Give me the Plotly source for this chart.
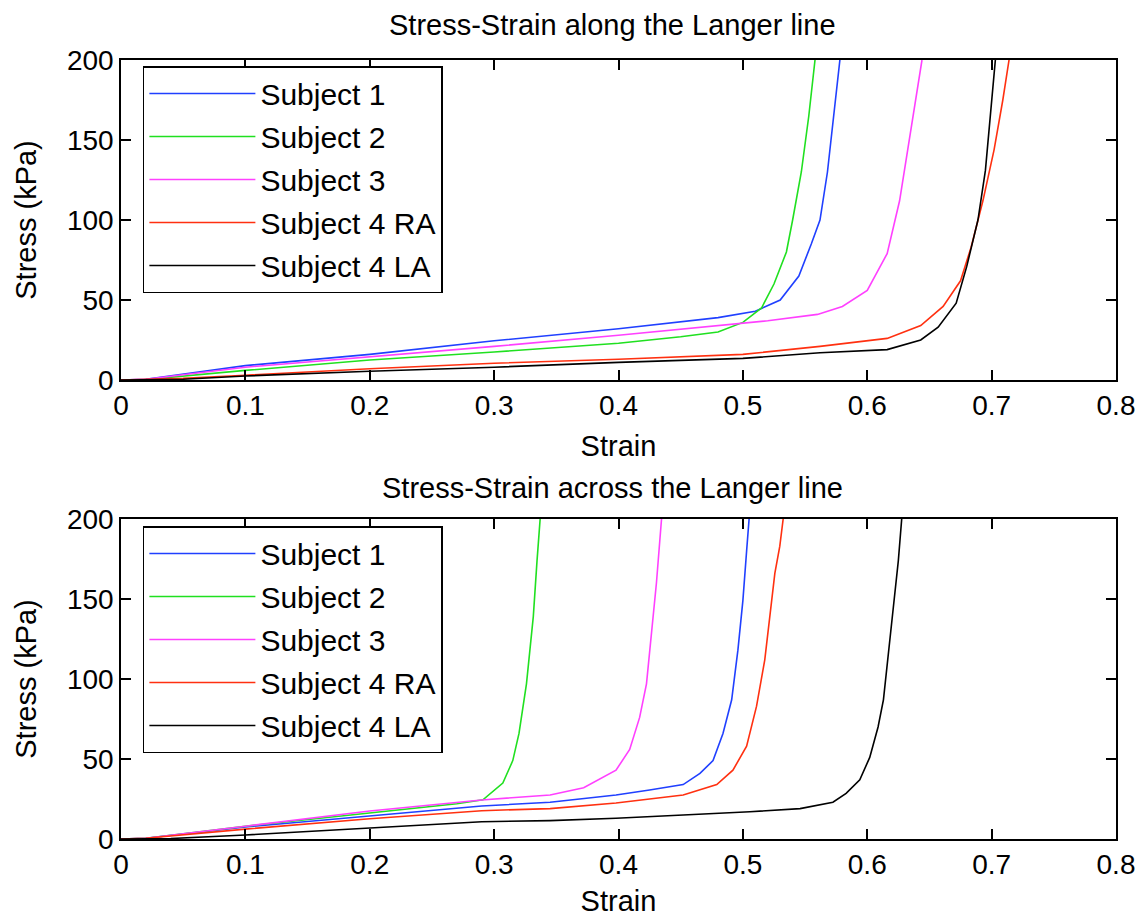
import plotly.graph_objects as go

names = ["Subject 1", "Subject 2", "Subject 3", "Subject 4 RA", "Subject 4 LA"]
colors = ["#2040ff", "#20e020", "#ff40ff", "#ff3010", "#000000"]

# ---- along the Langer line (top) ----
a1_x = [0, 0.02, 0.1, 0.2, 0.3, 0.4, 0.48, 0.51, 0.53, 0.545, 0.555, 0.562, 0.568, 0.573, 0.578]
a1_y = [0, 0.5, 9, 16, 24.5, 32, 39, 43, 50, 65, 85, 100, 130, 165, 200]
a2_x = [0, 0.02, 0.1, 0.2, 0.3, 0.4, 0.45, 0.48, 0.5, 0.515, 0.525, 0.535, 0.54, 0.547, 0.553, 0.558]
a2_y = [0, 0.3, 6, 12.5, 17.5, 23, 27, 30, 36, 45, 60, 80, 100, 130, 165, 200]
a3_x = [0, 0.02, 0.1, 0.2, 0.3, 0.4, 0.48, 0.52, 0.56, 0.58, 0.6, 0.616, 0.626, 0.634, 0.644]
a3_y = [0, 0.5, 8, 14.5, 21, 28, 34, 37, 41, 46, 56, 79, 112, 150, 200]
a4_x = [0, 0.05, 0.1, 0.2, 0.3, 0.4, 0.5, 0.562, 0.616, 0.643, 0.661, 0.675, 0.6835, 0.693, 0.702, 0.709, 0.714]
a4_y = [0, 1, 3, 7, 10.5, 13, 16, 21, 26, 34, 46, 62, 83, 112, 144, 175, 200]
a5_x = [0, 0.05, 0.1, 0.2, 0.3, 0.4, 0.5, 0.562, 0.616, 0.643, 0.657, 0.6715, 0.68, 0.689, 0.695, 0.70, 0.703]
a5_y = [0, 0.5, 2.5, 5.5, 8, 11, 13.5, 17, 19, 25, 33, 48, 71, 100, 131, 175, 200]

# ---- across the Langer line (bottom) ----
c1_x = [0, 0.02, 0.1, 0.2, 0.29, 0.345, 0.398, 0.425, 0.452, 0.4655, 0.476, 0.484, 0.491, 0.496, 0.5, 0.503, 0.505]
c1_y = [0, 0.5, 7.5, 14.5, 20.6, 23, 27.5, 30.6, 34, 41, 49, 66, 87, 118, 149, 180, 200]
c2_x = [0, 0.02, 0.1, 0.2, 0.27, 0.291, 0.307, 0.315, 0.32, 0.326, 0.3315, 0.3345, 0.337]
c2_y = [0, 0.5, 8, 16.5, 22, 24.5, 35, 49, 66, 97, 139, 174, 200]
c3_x = [0, 0.02, 0.1, 0.2, 0.29, 0.345, 0.372, 0.398, 0.409, 0.417, 0.4225, 0.4265, 0.4305, 0.4346]
c3_y = [0, 0.5, 8, 17.5, 24.4, 27.5, 32, 43, 56, 76, 97, 129, 160, 200]
c4_x = [0, 0.02, 0.1, 0.2, 0.29, 0.345, 0.398, 0.452, 0.479, 0.492, 0.503, 0.511, 0.5176, 0.5217, 0.5257, 0.5297, 0.5324]
c4_y = [0, 0.5, 6.2, 12.7, 17.7, 19, 22.5, 27.5, 34, 43, 58, 83, 112, 139, 166, 183, 200]
c5_x = [0, 0.04, 0.1, 0.2, 0.29, 0.345, 0.398, 0.452, 0.5056, 0.546, 0.5724, 0.583, 0.594, 0.602, 0.6087, 0.613, 0.617, 0.621, 0.625, 0.6277]
c5_y = [0, 0.3, 2.5, 6.9, 10.8, 11.5, 13, 15, 17, 19, 23, 28.5, 37, 51, 70, 87, 118, 145, 174, 200]

x_ticks = [0, 0.1, 0.2, 0.3, 0.4, 0.5, 0.6, 0.7, 0.8]
x_labels = ["0", "0.1", "0.2", "0.3", "0.4", "0.5", "0.6", "0.7", "0.8"]
y_ticks = [0, 50, 100, 150, 200]

top_title = "Stress-Strain along the Langer line"
bot_title = "Stress-Strain across the Langer line"

FONT = "Liberation Sans, Arial, sans-serif"

fig = go.Figure()
along = [(a1_x, a1_y), (a2_x, a2_y), (a3_x, a3_y), (a4_x, a4_y), (a5_x, a5_y)]
across = [(c1_x, c1_y), (c2_x, c2_y), (c3_x, c3_y), (c4_x, c4_y), (c5_x, c5_y)]
for i, (x, y) in enumerate(along):
    fig.add_trace(go.Scatter(x=x, y=y, mode="lines", name=names[i],
                             line=dict(color=colors[i], width=1.6),
                             xaxis="x", yaxis="y", legend="legend",
                             legendgroup="a%d" % i))
for i, (x, y) in enumerate(across):
    fig.add_trace(go.Scatter(x=x, y=y, mode="lines", name=names[i],
                             line=dict(color=colors[i], width=1.6),
                             xaxis="x2", yaxis="y2", legend="legend2",
                             legendgroup="c%d" % i))

axis_common = dict(showline=True, linecolor="black", linewidth=1.5, mirror="ticks",
                   ticks="inside", ticklen=10, tickwidth=1.5, tickcolor="black",
                   showgrid=False, zeroline=False, automargin=False,
                   tickfont=dict(family=FONT, size=28, color="black"))
xax = dict(axis_common, range=[0, 0.8], tickvals=x_ticks, ticktext=x_labels)
yax = dict(axis_common, range=[0, 200], tickvals=y_ticks)

top_lo = (839 - 380) / 779
bot_hi = (839 - 519) / 779

legend_common = dict(bgcolor="white", bordercolor="black", borderwidth=1.5,
                     font=dict(family=FONT, size=30, color="black"),
                     itemwidth=106, tracegroupgap=1, traceorder="grouped",
                     xanchor="left", yanchor="top", x=0.022)

fig.update_layout(
    width=1137, height=917,
    margin=dict(l=121, r=21, t=60, b=78, autoexpand=False),
    paper_bgcolor="white", plot_bgcolor="white",
    font=dict(family=FONT, size=29, color="black"),
    xaxis=dict(xax, domain=[0, 1], anchor="y",
               title=dict(text="Strain", font=dict(size=29), standoff=15)),
    yaxis=dict(yax, domain=[top_lo, 1], anchor="x",
               title=dict(text="Stress (kPa)", font=dict(size=29), standoff=22)),
    xaxis2=dict(xax, domain=[0, 1], anchor="y2",
                title=dict(text="Strain", font=dict(size=29), standoff=15)),
    yaxis2=dict(yax, domain=[0, bot_hi], anchor="x2",
                title=dict(text="Stress (kPa)", font=dict(size=29), standoff=22)),
    legend=dict(legend_common, y=(839 - 66) / 779),
    legend2=dict(legend_common, y=(839 - 526) / 779),
    annotations=[
        dict(text=top_title, x=0.494, y=1 + (60 - 25) / 779, xref="paper", yref="paper",
             showarrow=False, xanchor="center", yanchor="middle",
             font=dict(family=FONT, size=29, color="black")),
        dict(text=bot_title, x=0.494, y=(839 - 488) / 779, xref="paper", yref="paper",
             showarrow=False, xanchor="center", yanchor="middle",
             font=dict(family=FONT, size=29, color="black")),
    ],
)

fig.write_html("out.html",
               config={"displayModeBar": False},
               post_script="document.body.style.margin='0';document.body.style.overflow='hidden';")
